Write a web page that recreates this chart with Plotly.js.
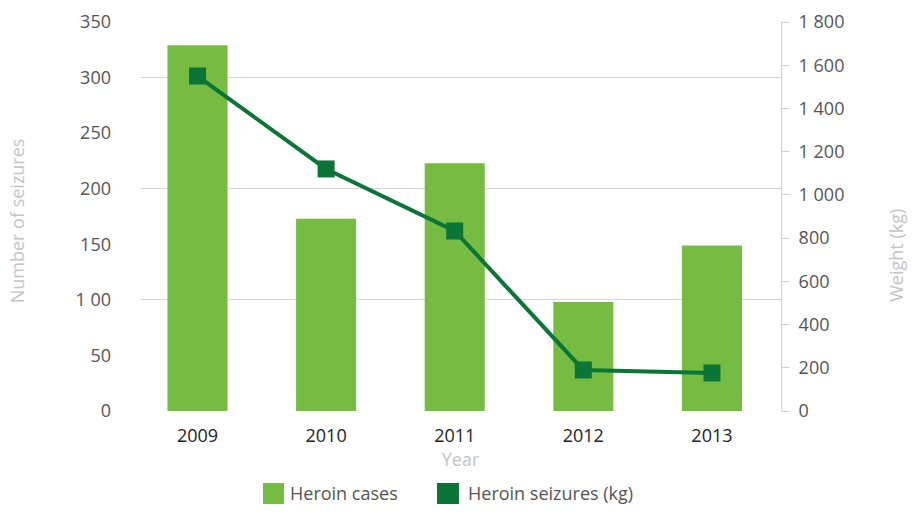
<!DOCTYPE html>
<html>
<head>
<meta charset="utf-8">
<script src="https://cdn.plot.ly/plotly-3.0.1.min.js"></script>
<style>html,body{margin:0;padding:0;background:#fff}#chart{width:916px;height:515px}</style>
</head>
<body>
<div id="chart"></div>
<script>
var years = ['2009', '2010', '2011', '2012', '2013'];
var heroinCases = [329, 173, 223, 98, 149];
var heroinSeizuresKg = [1550, 1120, 833, 190, 176];
var leftTickVals = [0, 50, 100, 150, 200, 250, 300, 350];
var leftTickText = ['0', '50', '1 00', '150', '200', '250', '300', '350'];
var rightTickVals = [0, 200, 400, 600, 800, 1000, 1200, 1400, 1600, 1800];
var rightTickText = ['0', '200', '400', '600', '800', '1 000', '1 200', '1 400', '1 600', '1 800'];
var gridVals = [0, 100, 200, 300];

var barColor = '#76bc43';
var lineColor = '#0a7536';
var font = 'Open Sans, Lato, sans-serif';

var traces = [
  {type: 'bar', x: years, y: heroinCases, marker: {color: barColor}, yaxis: 'y', name: 'Heroin cases', showlegend: false, hoverinfo: 'x+y'},
  {type: 'scatter', mode: 'lines+markers', x: years, y: heroinSeizuresKg, yaxis: 'y2', name: 'Heroin seizures (kg)', showlegend: false,
   line: {color: lineColor, width: 4}, marker: {symbol: 'square', size: 17, color: lineColor}},
  {type: 'scatter', mode: 'markers', x: years, y: [null, null, null, null, null], yaxis: 'y3', showlegend: false, hoverinfo: 'skip'}
];

var layout = {
  width: 916, height: 515,
  margin: {l: 140, r: 135, t: 22, b: 104},
  paper_bgcolor: '#fff', plot_bgcolor: 'rgba(0,0,0,0)',
  font: {family: font, size: 18, color: '#555'},
  showlegend: false,
  bargap: 0.533,
  xaxis: {
    type: 'category', range: [-0.447, 4.537], showgrid: false, zeroline: false, showline: false, ticks: '',
    ticklabelstandoff: 12,
    tickfont: {size: 18, color: '#222'},
    title: {text: 'Year', font: {size: 18, color: '#c4c4c4'}, standoff: 0}
  },
  yaxis: {
    range: [0, 350], tickvals: leftTickVals, ticktext: leftTickText,
    showgrid: false, zeroline: false, showline: false, ticks: '',
    ticklabelstandoff: 28,
    tickfont: {size: 18, color: '#555'}
  },
  yaxis3: {
    range: [0, 350], overlaying: 'y', tickvals: gridVals, showticklabels: false,
    showgrid: true, gridcolor: '#d6d6d6', gridwidth: 1, zeroline: false, ticks: '', layer: 'below traces'
  },
  yaxis2: {
    range: [0, 1800], overlaying: 'y', side: 'right', tickvals: rightTickVals, ticktext: rightTickText,
    showgrid: false, zeroline: false, showline: true, linecolor: '#d0d0d0', linewidth: 1,
    ticks: 'outside', ticklen: 8, tickcolor: '#d0d0d0', ticklabelstandoff: 5,
    tickfont: {size: 18, color: '#555'}
  },
  annotations: [
    {text: 'Number of seizures', xref: 'paper', yref: 'paper', x: -0.192, xanchor: 'center', y: 0.49, yanchor: 'middle', textangle: -90, showarrow: false,
     font: {size: 18, color: '#c4c4c4'}},
    {text: 'Weight (kg)', xref: 'paper', yref: 'paper', x: 1.18, xanchor: 'center', y: 0.40, yanchor: 'middle', textangle: -90, showarrow: false,
     font: {size: 18, color: '#c4c4c4'}},
    {text: 'Heroin cases', xref: 'paper', yref: 'paper', x: (288 - 140) / 641, xanchor: 'left', y: -(493 - 411) / 389, yanchor: 'middle', showarrow: false,
     font: {size: 18, color: '#555'}},
    {text: 'Heroin seizures (kg)', xref: 'paper', yref: 'paper', x: (466 - 140) / 641, xanchor: 'left', y: -(493 - 411) / 389, yanchor: 'middle', showarrow: false,
     font: {size: 18, color: '#555'}}
  ],
  shapes: [
    {type: 'rect', xref: 'paper', yref: 'paper', x0: (263 - 140) / 641, x1: (284 - 140) / 641, y0: -(504 - 411) / 389, y1: -(483 - 411) / 389, fillcolor: barColor, line: {width: 0}},
    {type: 'rect', xref: 'paper', yref: 'paper', x0: (437 - 140) / 641, x1: (459 - 140) / 641, y0: -(504 - 411) / 389, y1: -(483 - 411) / 389, fillcolor: lineColor, line: {width: 0}}
  ]
};

Plotly.newPlot('chart', traces, layout, {displayModeBar: false, staticPlot: true});
</script>
</body>
</html>
